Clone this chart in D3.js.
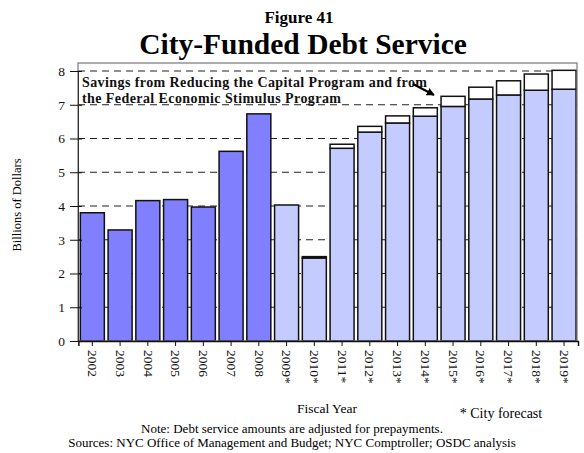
<!DOCTYPE html>
<html>
<head>
<meta charset="utf-8">
<script src="https://cdn.jsdelivr.net/npm/d3@7"></script>
<style>
  body { margin: 0; background: #fff; }
  svg { display: block; }
  svg text { font-family: "Liberation Serif", "Times New Roman", serif; }
</style>
</head>
<body>
<svg></svg>
<script>
// data (billions of dollars)
let years = ["2002","2003","2004","2005","2006","2007","2008","2009*","2010*","2011*","2012*","2013*","2014*","2015*","2016*","2017*","2018*","2019*"];
let debtService = [3.80,3.29,4.16,4.19,3.97,5.62,6.73,4.03,2.46,5.71,6.19,6.46,6.66,6.95,7.17,7.29,7.43,7.46];
let savings = [0,0,0,0,0,0,0,0,0.04,0.12,0.17,0.21,0.25,0.30,0.35,0.42,0.48,0.56];
let isForecast = [0,0,0,0,0,0,0,1,1,1,1,1,1,1,1,1,1,1];
let yTicks = [0,1,2,3,4,5,6,7,8];

let width = 584;
let height = 453;
let plotLeft = 78, plotRight = 577, plotTop = 63, plotBottom = 341;
let svg = d3.select("svg").attr("width", width).attr("height", height);

let xScale = d3.scaleBand().domain(years).range([78.4, 578]).paddingInner(0.135).paddingOuter(0.07);
let yScale = d3.scaleLinear().domain([0, 8]).range([plotBottom, 71]);

// title
svg.append("text").attr("x", 299).attr("y", 23).attr("text-anchor", "middle")
   .attr("font-weight", "bold").attr("font-size", 17).text("Figure 41");
svg.append("text").attr("x", 303).attr("y", 54).attr("text-anchor", "middle")
   .attr("font-weight", "bold").attr("font-size", 29.5).text("City-Funded Debt Service");

// gridlines
svg.append("g").selectAll("line").data(yTicks.filter(d => d > 0)).join("line")
   .attr("x1", plotLeft).attr("x2", plotRight)
   .attr("y1", d => yScale(d)).attr("y2", d => yScale(d))
   .attr("stroke", "#222").attr("stroke-width", 1.2).attr("stroke-dasharray", "7,5");

// bars
let g = svg.append("g");
years.forEach((yr, i) => {
  let x = xScale(yr), w = xScale.bandwidth();
  g.append("rect").attr("x", x).attr("width", w)
   .attr("y", yScale(debtService[i])).attr("height", yScale(0) - yScale(debtService[i]))
   .attr("fill", isForecast[i] ? "#c4ccff" : "#8080ff")
   .attr("stroke", "#111").attr("stroke-width", 1.5);
  if (savings[i] > 0) {
    let top2 = debtService[i] + savings[i];
    g.append("rect").attr("x", x).attr("width", w)
     .attr("y", yScale(top2)).attr("height", yScale(debtService[i]) - yScale(top2))
     .attr("fill", "#fff").attr("stroke", "#111").attr("stroke-width", 1.5);
  }
});

// frame
svg.append("rect").attr("x", plotLeft).attr("y", plotTop).attr("width", plotRight - plotLeft).attr("height", plotBottom - plotTop)
   .attr("fill", "none").attr("stroke", "#777").attr("stroke-width", 1.2);

// y axis
let yAxis = d3.axisLeft(yScale).tickValues(yTicks).tickSize(8).tickPadding(5).tickFormat(d3.format("d"));
let ya = svg.append("g").attr("transform", "translate(" + plotLeft + ",0)").call(yAxis);
ya.attr("font-family", null);
ya.select(".domain").attr("stroke", "#333");
ya.selectAll(".tick line").attr("x2", -8).attr("x1", 4).attr("stroke", "#111");
ya.selectAll("text").style("font-size", "13.5px").attr("fill", "#111");

// x axis
let xAxis = d3.axisBottom(xScale).tickSize(5).tickPadding(4);
let xa = svg.append("g").attr("transform", "translate(0," + plotBottom + ")").call(xAxis);
xa.attr("font-family", null);
xa.select(".domain").attr("stroke", "#111").attr("stroke-width", 1.5);
xa.selectAll(".tick line").attr("stroke", "#111");
xa.selectAll("text").style("font-size", "13.5px").attr("fill", "#111")
  .attr("transform", "rotate(90)").attr("text-anchor", "start")
  .attr("x", 9).attr("y", 0).attr("dy", "0.32em");

// annotation
let ann = svg.append("text").attr("font-weight", "bold").attr("font-size", 14).attr("fill", "#111");
ann.append("tspan").attr("x", 82).attr("y", 87).attr("textLength", 345).attr("lengthAdjust", "spacing")
   .text("Savings from Reducing the Capital Program and from");
ann.append("tspan").attr("x", 82).attr("y", 103).attr("textLength", 259).attr("lengthAdjust", "spacing")
   .text("the Federal Economic Stimulus Program");

svg.append("defs").append("marker").attr("id", "ah").attr("viewBox", "0 0 10 10")
   .attr("refX", 9).attr("refY", 5).attr("markerWidth", 4).attr("markerHeight", 4)
   .attr("orient", "auto").append("path").attr("d", "M0,0L10,5L0,10z").attr("fill", "#000");
svg.append("line").attr("x1", 413).attr("y1", 84).attr("x2", 434).attr("y2", 95)
   .attr("stroke", "#000").attr("stroke-width", 2).attr("marker-end", "url(#ah)");

// axis titles and notes
svg.append("text").attr("transform", "translate(21,205) rotate(-90)").attr("text-anchor", "middle")
   .attr("font-size", 12.5).text("Billions of Dollars");
svg.append("text").attr("x", 327).attr("y", 413).attr("text-anchor", "middle").attr("font-size", 13.5).text("Fiscal Year");
svg.append("text").attr("x", 501).attr("y", 418).attr("text-anchor", "middle").attr("font-size", 14).text("* City forecast");
svg.append("text").attr("x", 292).attr("y", 433).attr("text-anchor", "middle").attr("font-size", 13)
   .text("Note: Debt service amounts are adjusted for prepayments.");
svg.append("text").attr("x", 292).attr("y", 447).attr("text-anchor", "middle").attr("font-size", 13)
   .text("Sources: NYC Office of Management and Budget; NYC Comptroller; OSDC analysis");
</script>
</body>
</html>
